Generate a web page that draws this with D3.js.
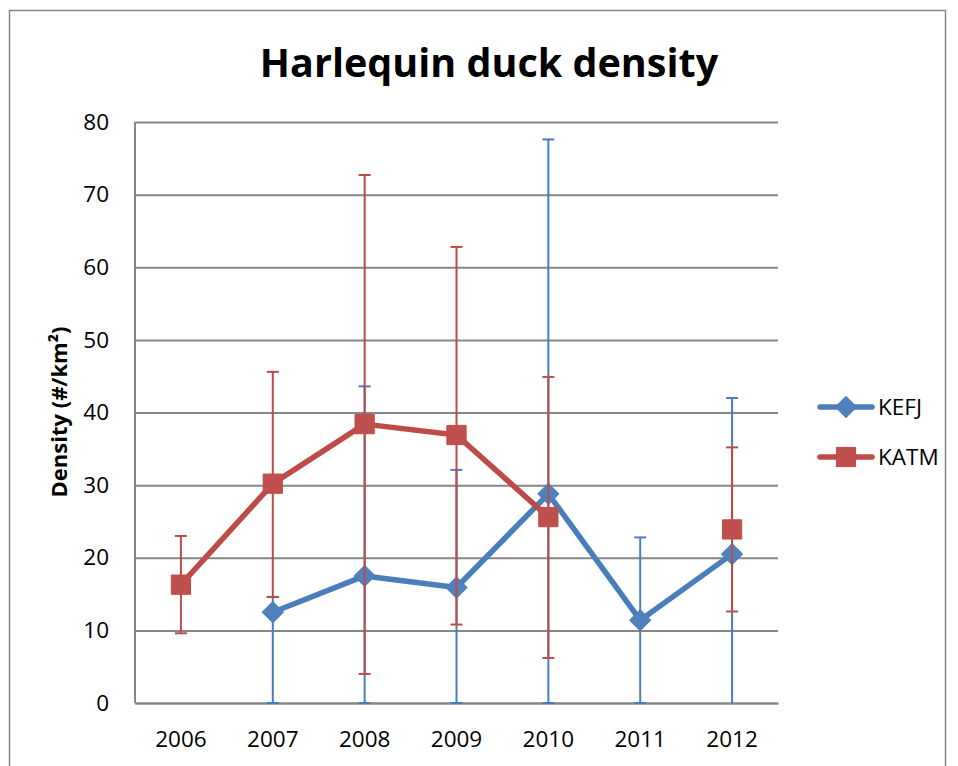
<!DOCTYPE html>
<html>
<head>
<meta charset="utf-8">
<script src="https://cdn.jsdelivr.net/npm/d3@7"></script>
<style>
  html, body { margin: 0; padding: 0; background: #fff; }
  svg { display: block; }
  text { font-family: "Open Sans", "Noto Sans", sans-serif; }
</style>
</head>
<body>
<svg id="chart" width="958" height="766"></svg>
<script>
// Survey years on the category axis
const years = ["2006", "2007", "2008", "2009", "2010", "2011", "2012"];
const yTicks = [0, 10, 20, 30, 40, 50, 60, 70, 80];

// KEFJ density (#/km²) with lower / upper error limits
const kefjValues = [null, 12.5, 17.5, 15.9, 28.8, 11.4, 20.5];
const kefjLow    = [null, 0, 0, 0, 0, 0, -1];
const kefjHigh   = [null, 14.6, 43.6, 32.1, 77.6, 22.8, 42.0];

// KATM density (#/km²) with lower / upper error limits
const katmValues = [16.3, 30.2, 38.4, 36.9, 25.6, null, 23.9];
const katmLow    = [9.6, 14.6, 4.0, 10.8, 6.2, null, 12.6];
const katmHigh   = [23.0, 45.6, 72.7, 62.8, 44.9, null, 35.2];

const seriesNames = ["KEFJ", "KATM"];

const svg = d3.select("#chart");
const W = 958, H = 766;
const margin = { left: 135, right: 180, top: 122, bottom: 63 };
const plotW = W - margin.left - margin.right;   // 643
const plotH = H - margin.top - margin.bottom;   // 581

const blue = "#4A7EBB", blueFill = "#4F81BD";
const red = "#BE4B48", redFill = "#C0504D";
const gridColor = "#868686";

// outer chart frame
svg.append("rect")
  .attr("x", 9.5).attr("y", 10.5)
  .attr("width", 936).attr("height", 780)
  .attr("fill", "none").attr("stroke", gridColor).attr("stroke-width", 1.5);

// title
svg.append("text")
  .attr("x", 489).attr("y", 77)
  .attr("text-anchor", "middle")
  .attr("font-size", 39.5).attr("font-weight", "bold")
  .attr("fill", "#000")
  .text("Harlequin duck density");

const g = svg.append("g").attr("transform", `translate(${margin.left},${margin.top})`);

const x = d3.scaleBand().domain(years).range([0, plotW]).padding(0);
const y = d3.scaleLinear().domain([0, 80]).range([plotH, 0]);
const cx = d => x(d) + x.bandwidth() / 2;

// horizontal gridlines + y axis labels
const yAxis = d3.axisLeft(y).tickValues(yTicks).tickSize(-plotW).tickPadding(26).tickFormat(d3.format("d"));
const yg = g.append("g").call(yAxis);
yg.select(".domain").remove();
yg.selectAll(".tick line").attr("stroke", gridColor).attr("stroke-width", 2);
yg.selectAll(".tick text").attr("font-size", 22.5).attr("fill", "#000")
  .attr("font-family", "'Open Sans', sans-serif");

// vertical axis line
g.append("line").attr("x1", 0).attr("x2", 0).attr("y1", 0).attr("y2", plotH)
  .attr("stroke", gridColor).attr("stroke-width", 2);

// x axis
const xAxis = d3.axisBottom(x).tickSize(0).tickPadding(28);
const xg = g.append("g").attr("transform", `translate(0,${plotH})`).call(xAxis);
xg.select(".domain").attr("stroke", gridColor).attr("stroke-width", 2);
xg.selectAll(".tick text").attr("font-size", 22.5).attr("fill", "#000")
  .attr("font-family", "'Open Sans', sans-serif");

// y axis title
svg.append("text")
  .attr("transform", "translate(67,412) rotate(-90)")
  .attr("text-anchor", "middle")
  .attr("font-size", 22).attr("font-weight", "bold")
  .attr("fill", "#000")
  .text("Density (#/km²)");

// clip region for error bars that run below the axis
svg.append("defs").append("clipPath").attr("id", "plotClip")
  .append("rect").attr("x", -10).attr("y", -10).attr("width", plotW + 20).attr("height", plotH + 11);

const series = [
  { name: seriesNames[0], vals: kefjValues, lo: kefjLow, hi: kefjHigh, line: blue, fill: blueFill, shape: "diamond" },
  { name: seriesNames[1], vals: katmValues, lo: katmLow, hi: katmHigh, line: red, fill: redFill, shape: "square" }
];

const lineGen = d3.line()
  .defined(d => d.v !== null)
  .x(d => cx(d.year))
  .y(d => y(d.v));

function markerPath(shape) {
  if (shape === "diamond") return d3.symbol().type(d3.symbolDiamond2).size(290)();
  return d3.symbol().type(d3.symbolSquare).size(370)();
}

series.forEach(s => {
  const pts = years.map((yr, i) => ({ year: yr, v: s.vals[i], lo: s.lo[i], hi: s.hi[i] }));
  const sg = g.append("g");

  // error bars
  const eb = sg.append("g").attr("clip-path", "url(#plotClip)");
  pts.filter(p => p.v !== null).forEach(p => {
    const px = cx(p.year);
    eb.append("line").attr("x1", px).attr("x2", px).attr("y1", y(p.lo)).attr("y2", y(p.hi))
      .attr("stroke", s.line).attr("stroke-width", 2);
    [p.lo, p.hi].forEach(val => {
      eb.append("line").attr("x1", px - 6).attr("x2", px + 6).attr("y1", y(val)).attr("y2", y(val))
        .attr("stroke", s.line).attr("stroke-width", 2);
    });
  });

  // connecting line
  sg.append("path").datum(pts)
    .attr("d", lineGen)
    .attr("fill", "none").attr("stroke", s.line).attr("stroke-width", 5.5)
    .attr("stroke-linejoin", "round").attr("stroke-linecap", "round");

  // markers
  sg.selectAll("path.m").data(pts.filter(p => p.v !== null)).join("path")
    .attr("class", "m")
    .attr("d", markerPath(s.shape))
    .attr("transform", p => `translate(${cx(p.year)},${y(p.v)})`)
    .attr("fill", s.fill).attr("stroke", s.line).attr("stroke-width", 1);
});

// legend
const legend = svg.append("g");
series.forEach((s, i) => {
  const ly = 407 + i * 50;
  legend.append("line").attr("x1", 820).attr("x2", 872).attr("y1", ly).attr("y2", ly)
    .attr("stroke", s.line).attr("stroke-width", 5.5).attr("stroke-linecap", "round");
  legend.append("path").attr("d", markerPath(s.shape))
    .attr("transform", `translate(846,${ly})`)
    .attr("fill", s.fill).attr("stroke", s.line).attr("stroke-width", 1);
  legend.append("text").attr("x", 878).attr("y", ly + 8)
    .attr("font-size", 22.5).attr("fill", "#000").text(s.name);
});
</script>
</body>
</html>
